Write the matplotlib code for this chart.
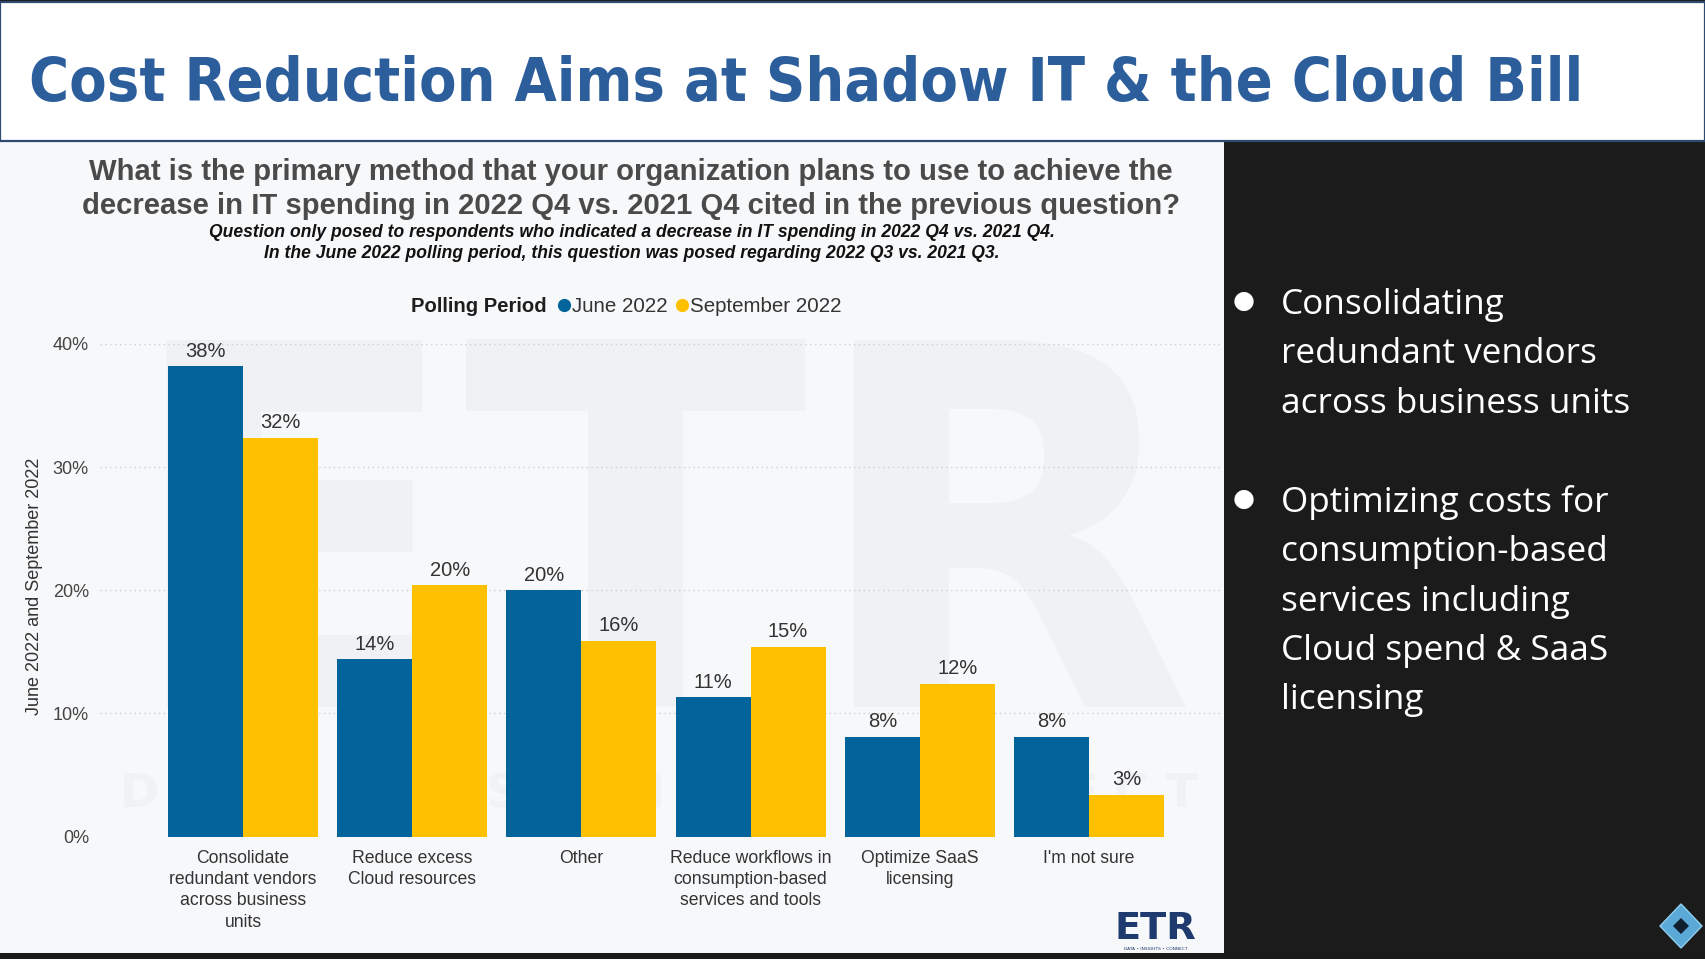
import matplotlib
matplotlib.use("Agg")
import matplotlib.pyplot as plt
from matplotlib.patches import Rectangle, Polygon
from matplotlib.lines import Line2D
import numpy as np

W, H, DPI = 1706, 959, 100

# ---------------- data ----------------
categories = [
    "Consolidate\nredundant vendors\nacross business\nunits",
    "Reduce excess\nCloud resources",
    "Other",
    "Reduce workflows in\nconsumption-based\nservices and tools",
    "Optimize SaaS\nlicensing",
    "I'm not sure",
]
june_2022 = [38.2, 14.4, 20.0, 11.3, 8.1, 8.1]
sept_2022 = [32.4, 20.4, 15.9, 15.4, 12.4, 3.4]
series_names = ["June 2022", "September 2022"]
y_ticks = [0, 10, 20, 30, 40]
y_tick_labels = ["0%", "10%", "20%", "30%", "40%"]

title = "Cost Reduction Aims at Shadow IT & the Cloud Bill"
question_lines = [
    "What is the primary method that your organization plans to use to achieve the",
    "decrease in IT spending in 2022 Q4 vs. 2021 Q4 cited in the previous question?",
]
note_lines = [
    "Question only posed to respondents who indicated a decrease in IT spending in 2022 Q4 vs. 2021 Q4.",
    "In the June 2022 polling period, this question was posed regarding 2022 Q3 vs. 2021 Q3.",
]
legend_title = "Polling Period"
y_axis_label = "June 2022 and September 2022"
bullets = [
    ["Consolidating", "redundant vendors", "across business units"],
    ["Optimizing costs for", "consumption-based", "services including",
     "Cloud spend & SaaS", "licensing"],
]

BLUE = "#03639B"
YELLOW = "#FFC000"

# ---------------- figure ----------------
fig = plt.figure(figsize=(W / DPI, H / DPI), dpi=DPI, facecolor="#1A1A1A")
renderer = fig.canvas.get_renderer()


def fx(px):
    return px / W


def fy(py):
    return 1 - py / H


def fit(t, target_w):
    for _ in range(4):
        w = t.get_window_extent(renderer).width
        t.set_fontsize(t.get_fontsize() * target_w / w)
    return t.get_fontsize()


# panels
fig.patches.append(Rectangle((0, fy(953)), fx(1224), fy(141) - fy(953),
                             transform=fig.transFigure, facecolor="#F7F8FA",
                             edgecolor="none", zorder=-5))
fig.patches.append(Rectangle((fx(1224), fy(953)), fx(1706 - 1224), fy(141) - fy(953),
                             transform=fig.transFigure, facecolor="#1B1B1B",
                             edgecolor="none", zorder=-5))
fig.patches.append(Rectangle((fx(0.5), fy(141)), fx(1705), fy(1.5) - fy(141),
                             transform=fig.transFigure, facecolor="white",
                             edgecolor="#2E4A6E", linewidth=1.6, zorder=-4))

# title
t = fig.text(fx(29), fy(101), title, ha="left", va="baseline",
             color="#2C5E9C", fontsize=40, fontweight="bold",
             family=["DejaVu Sans Condensed", "DejaVu Sans"], fontstretch="condensed")
fit(t, 1556)

# watermark
wm = fig.text(fx(120), fy(707), "ETR", ha="left", va="baseline", color="#EFF1F4",
              fontsize=350, fontweight="bold", family="DejaVu Sans", zorder=-3)
fit(wm, 1077)
wm2 = fig.text(fx(120), fy(808), "D A T A  ·  I N S I G H T S  ·  C O N N E C T",
               ha="left", va="baseline", color="#F0F2F5", fontsize=40,
               fontweight="bold", family="DejaVu Sans", zorder=-3)
fit(wm2, 1077)

# question text
qfam = ["Liberation Sans Narrow", "Liberation Sans"]
q1 = fig.text(fx(631), fy(180), question_lines[0], ha="center", va="baseline",
              color="#4A4A4A", fontsize=18, fontweight="bold", family=qfam)
qs = fit(q1, 1082)
fig.text(fx(631), fy(214), question_lines[1], ha="center", va="baseline",
         color="#4A4A4A", fontsize=qs, fontweight="bold", family=qfam)
n1 = fig.text(fx(632), fy(237), note_lines[0], ha="center", va="baseline",
              color="#111111", fontsize=11, fontweight="bold", style="italic", family=qfam)
ns = fit(n1, 844)
fig.text(fx(632), fy(258), note_lines[1], ha="center", va="baseline",
         color="#111111", fontsize=ns, fontweight="bold", style="italic", family=qfam)

# legend
lt = fig.text(fx(411), fy(306), legend_title, ha="left", va="center", color="#1E1E1E",
              fontsize=14.5, fontweight="bold", family="Liberation Sans")
fit(lt, 136)
handles = [Line2D([], [], marker="o", ls="none", color=c, markersize=8.5)
           for c in (BLUE, YELLOW)]
fig.legend(handles, series_names, loc="center left",
           bbox_to_anchor=(fx(558), fy(307)), bbox_transform=fig.transFigure,
           ncol=2, frameon=False, handlelength=0.55, handletextpad=0.12,
           columnspacing=0.45, borderpad=0, borderaxespad=0,
           prop={"family": "Liberation Sans", "size": 14.8}, labelcolor="#333333")

# axes
top_px, bot_px, left_px, right_px = 344, 836.5, 100, 1221
ax = fig.add_axes([fx(left_px), fy(bot_px), fx(right_px - left_px),
                   (bot_px - top_px) / H])
ax.set_facecolor("none")
x = np.arange(len(categories))
bw = 0.443
b1 = ax.bar(x - bw / 2, june_2022, bw, color=BLUE, zorder=3)
b2 = ax.bar(x + bw / 2, sept_2022, bw, color=YELLOW, zorder=3)
for cont, vals in ((b1, june_2022), (b2, sept_2022)):
    ax.bar_label(cont, labels=[f"{v:.0f}%" for v in vals], padding=4,
                 fontsize=14.5, color="#333333", family="Liberation Sans")
ax.set_ylim(0, 40)
ax.set_xlim(-0.845, 5.78)
ax.set_yticks(y_ticks, y_tick_labels)
ax.set_xticks(x, categories)
ax.tick_params(length=0)
ax.tick_params(axis="y", pad=8, labelsize=13, labelcolor="#444444")
ax.tick_params(axis="x", pad=9.5, labelsize=12.7, labelcolor="#333333")
for lab in ax.get_xticklabels():
    lab.set_linespacing(1.33)
    lab.set_family("Liberation Sans")
for lab in ax.get_yticklabels():
    lab.set_family("Liberation Sans")
ax.yaxis.grid(True, linestyle=(0, (1, 2.5)), color="#CFCFCF", linewidth=1)
ax.set_axisbelow(True)
for s in ax.spines.values():
    s.set_visible(False)

fig.text(fx(35), fy(586), y_axis_label, rotation=90, ha="center", va="center",
         color="#333333", fontsize=13, family="Liberation Sans")

# ETR logo
lg = fig.text(fx(1115), fy(939), "ETR", ha="left", va="baseline", color="#1F3A6E",
              fontsize=28, fontweight="bold", family="DejaVu Sans")
fit(lg, 82)
fig.text(fx(1156), fy(950), "DATA • INSIGHTS • CONNECT", ha="center", va="baseline",
         color="#1F3A6E", fontsize=3.2, family="DejaVu Sans")

# right panel bullets
probe = fig.text(0, 0, bullets[0][2], family="Open Sans", fontsize=20, color="none")
bs = fit(probe, 349)
probe.remove()
em = bs * DPI / 72
line_centers = [[301, 350, 400], [499, 548, 598, 647, 696]]
for lines, centers in zip(bullets, line_centers):
    fig.text(fx(1244), fy(centers[0]), "●", ha="center", va="center",
             color="white", fontsize=bs * 0.72, family="DejaVu Sans")
    for ln, c in zip(lines, centers):
        fig.text(fx(1281), fy(c + 0.36 * em), ln, ha="left", va="baseline",
                 color="white", fontsize=bs, family="Open Sans")

# corner cube logo
fig.patches.append(Polygon([(fx(1681), fy(904)), (fx(1702), fy(926)),
                            (fx(1681), fy(948)), (fx(1660), fy(926))],
                           closed=True, transform=fig.transFigure,
                           facecolor="#5AA9D6", edgecolor="#8FD0F0", linewidth=1))
fig.patches.append(Polygon([(fx(1681), fy(918)), (fx(1689), fy(926)),
                            (fx(1681), fy(934)), (fx(1673), fy(926))],
                           closed=True, transform=fig.transFigure,
                           facecolor="#10202E", edgecolor="none"))

fig.savefig("out.png", dpi=DPI, facecolor=fig.get_facecolor())
